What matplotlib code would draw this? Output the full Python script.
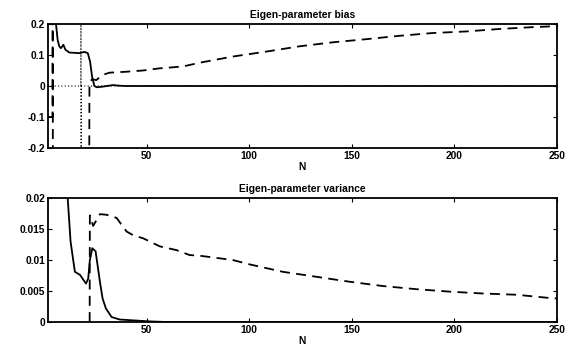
"""Eigen-parameter bias and variance versus N"""

import numpy as np
import matplotlib.pyplot as plt
from matplotlib.ticker import FixedLocator, FixedFormatter

# Bias plot data (top)
bias_solid_N = [5.5, 5.9, 6.7, 7.5, 8.3, 9.5, 10.5, 12.4, 17.3, 19.8, 21.4, 22.5, 23.5,
                24.6, 25.8, 28.7, 33.6, 36.8, 40, 60, 250]
bias_solid = [0.25, 0.2, 0.149, 0.128, 0.122, 0.133, 0.117, 0.108, 0.106, 0.110, 0.106, 0.079,
              0.03, 0.0, -0.004, -0.002, 0.003, 0.001, 0.0, 0.0, 0.0]

bias_dash_N = [2, 4.2, 4.3, 4.4, 22.0, 22.2, 23.5, 25.5, 28.7, 32, 40.1, 48.2, 56.4, 67.8,
               75.8, 92, 108.3, 124.5, 140.8, 157, 173.3, 189.6, 205.8, 222, 238.3, 245.6, 250]
bias_dash = [-0.1, -0.1, 0.5, -0.5, -0.5, 0.009, 0.022, 0.019, 0.036, 0.043, 0.046, 0.05,
             0.057, 0.063, 0.075, 0.095, 0.111, 0.128, 0.141, 0.151, 0.162, 0.171, 0.176,
             0.184, 0.19, 0.192, 0.194]

bias_dot_N = [2, 18.0, 18.05, 18.15, 18.2, 250]
bias_dot = [0.0, 0.0, 0.5, -0.5, 0.0, 0.0]

# Variance plot data (bottom)
var_solid_N = [11.0, 11.6, 13.0, 15.1, 17.6, 20.5, 21.6, 22.4, 23.6, 25.2, 27.3, 28.6, 30.2,
               33, 37, 51.6, 60, 250]
var_solid = [0.025, 0.02, 0.013, 0.0081, 0.0076, 0.0062, 0.007, 0.01, 0.0119, 0.0114, 0.0065,
             0.0038, 0.0022, 0.0008, 0.0004, 0.0001, 0.0, 0.0]

var_dash_N = [22.3, 22.4, 24.0, 27.3, 30.5, 35.4, 40.3, 43.5, 48.4, 56.5, 64.6, 71, 75.8, 92,
              100.2, 116.4, 132.7, 148.9, 165.2, 181.4, 197.7, 213.9, 230.2, 245.6, 250]
var_dash = [0.0, 0.0172, 0.0155, 0.0174, 0.0173, 0.0168, 0.0146, 0.014, 0.0135, 0.0122,
            0.0116, 0.0108, 0.0107, 0.01, 0.0093, 0.0081, 0.0073, 0.0065, 0.0058, 0.0053,
            0.0049, 0.0046, 0.0044, 0.0039, 0.0038]

x_ticks = [50, 100, 150, 200, 250]
bias_yticks = [-0.2, -0.1, 0, 0.1, 0.2]
bias_ylabels = ["-0.2", "-0.1", "0", "0.1", "0.2"]
var_yticks = [0, 0.005, 0.01, 0.015, 0.02]
var_ylabels = ["0", "0.005", "0.01", "0.015", "0.02"]

plt.rcParams["font.family"] = ["Liberation Sans", "DejaVu Sans"]
plt.rcParams["font.weight"] = "bold"
fs = 7.4
plt.rcParams["font.size"] = fs

fig = plt.figure(figsize=(5.74, 3.47), dpi=100)
ax1 = fig.add_axes([0.0836, 0.5735, 0.8868, 0.3573])
ax2 = fig.add_axes([0.0836, 0.072, 0.8868, 0.3573])

dash = (0, (5.5, 3.5))
lw = 1.3

# Top: bias
ax1.plot(bias_dot_N, bias_dot, color="black", lw=0.8, linestyle=(0, (1, 2)))
ax1.plot(bias_solid_N, bias_solid, color="black", lw=lw)
ax1.plot(bias_dash_N, bias_dash, color="black", lw=lw, linestyle=dash)
ax1.set_xlim(2, 250)
ax1.set_ylim(-0.2, 0.2)
ax1.yaxis.set_major_locator(FixedLocator(bias_yticks))
ax1.yaxis.set_major_formatter(FixedFormatter(bias_ylabels))
ax1.set_title("Eigen-parameter bias", fontsize=fs, fontweight="bold", pad=4)
ax1.set_xlabel("N", fontsize=fs, fontweight="bold", labelpad=1)

# Bottom: variance
ax2.plot(var_solid_N, var_solid, color="black", lw=lw)
ax2.plot(var_dash_N, var_dash, color="black", lw=lw, linestyle=dash)
ax2.set_xlim(2, 250)
ax2.set_ylim(0, 0.02)
ax2.yaxis.set_major_locator(FixedLocator(var_yticks))
ax2.yaxis.set_major_formatter(FixedFormatter(var_ylabels))
ax2.set_title("Eigen-parameter variance", fontsize=fs, fontweight="bold", pad=4)
ax2.set_xlabel("N", fontsize=fs, fontweight="bold", labelpad=1)

for ax in (ax1, ax2):
    ax.set_xticks(x_ticks)
    ax.tick_params(direction="in", top=True, right=True, length=3, width=0.8, pad=2)
    for sp in ax.spines.values():
        sp.set_linewidth(1.3)

fig.savefig("out.png", dpi=100)
